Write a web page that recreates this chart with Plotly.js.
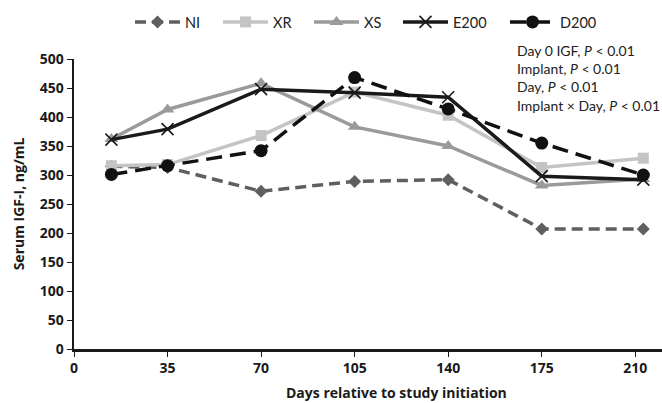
<!DOCTYPE html>
<html><head><meta charset="utf-8">
<script src="https://cdn.plot.ly/plotly-3.0.1.min.js"></script>
<style>body{margin:0;padding:0;background:#fff}#chart{width:662px;height:403px}</style>
</head><body><div id="chart"></div>
<script>
const days = [14, 35, 70, 105, 140, 175, 213];
const NI   = [315, 313, 272, 289, 292, 207, 207];
const XR   = [316, 318, 368, 443, 403, 313, 329];
const XS   = [362, 413, 458, 383, 350, 282, 293];
const E200 = [361, 379, 448, 442, 434, 298, 292];
const D200 = [301, 316, 342, 468, 414, 355, 300];
const xTicks = [0, 35, 70, 105, 140, 175, 210];
const yTicks = [0, 50, 100, 150, 200, 250, 300, 350, 400, 450, 500];
const notes = ["Day 0 IGF, <i>P</i> < 0.01", "Implant, <i>P</i> < 0.01", "Day, <i>P</i> < 0.01", "Implant × Day, <i>P</i> < 0.01"];
const xTitle = "Days relative to study initiation";
const yTitle = "Serum IGF-I, ng/mL";

const legendIds = ['legend', 'legend2', 'legend3', 'legend4', 'legend5'];
const legendLeft = [130, 218, 309, 398, 505];

const traces = [
  {name:'NI', y:NI, line:{color:'#5f5f5f', width:3.5, dash:'11px,6px'}, marker:{symbol:'diamond', size:10, color:'#5f5f5f'}},
  {name:'XR', y:XR, line:{color:'#c4c4c4', width:3.5}, marker:{symbol:'square', size:11, color:'#c4c4c4'}},
  {name:'XS', y:XS, line:{color:'#9a9a9a', width:3.5}, marker:{symbol:'triangle-up', size:12, color:'#9a9a9a'}},
  {name:'E200', y:E200, line:{color:'#1a1a1a', width:3.5}, marker:{symbol:'x-thin-open', size:12, color:'#1a1a1a', line:{width:1.6, color:'#1a1a1a'}}},
  {name:'D200', y:D200, line:{color:'#111111', width:3.5, dash:'16px,8px'}, marker:{symbol:'circle', size:13, color:'#111111'}}
].map((t, i) => Object.assign({x:days, type:'scatter', mode:'lines+markers', legend:legendIds[i]}, t));

const layout = {
  width:662, height:403,
  margin:{l:74, r:0, t:59, b:54},
  paper_bgcolor:'#fff', plot_bgcolor:'#fff',
  font:{family:'"Open Sans", sans-serif', color:'#1a1a1a'},
  showlegend:true,
  xaxis:{range:[0,220], tickvals:xTicks, ticktext:xTicks.map(String), showgrid:false, zeroline:false,
    showline:true, linecolor:'#1a1a1a', linewidth:2.5, ticks:'outside', ticklen:5, tickcolor:'#1a1a1a',
    tickfont:{size:14, family:'"Open Sans", sans-serif', weight:'bold'}},
  yaxis:{range:[0,500], tickvals:yTicks, showgrid:false, zeroline:false,
    showline:true, linecolor:'#1a1a1a', linewidth:2.5, ticks:'outside', ticklen:5, tickcolor:'#1a1a1a',
    tickfont:{size:14, family:'"Open Sans", sans-serif', weight:'bold'},
    title:{text:'<b>' + yTitle + '</b>', font:{size:14}, standoff:12}},
  annotations:[
    {xref:'paper', yref:'paper', x:1, y:(349-40)/290, xanchor:'right', yanchor:'top', align:'left',
     showarrow:false, text:notes.join('<br>'), font:{size:14, family:'Lato, sans-serif', color:'#222'}},
    {xref:'paper', yref:'paper', x:(396-74)/588, y:(349-392)/290, xanchor:'center', yanchor:'middle',
     showarrow:false, text:'<b>' + xTitle + '</b>', font:{size:14, family:'"Open Sans", sans-serif', color:'#1a1a1a'}}
  ]
};
legendIds.forEach((id, i) => {
  layout[id] = {orientation:'h', xref:'container', yref:'container', x:legendLeft[i]/662, xanchor:'left',
    y:1-22/403, yanchor:'middle', font:{size:14.5, family:'Lato, sans-serif', color:'#222'}, itemwidth:45,
    bgcolor:'rgba(0,0,0,0)'};
});
Plotly.newPlot('chart', traces, layout, {displayModeBar:false, staticPlot:true});
</script></body></html>
